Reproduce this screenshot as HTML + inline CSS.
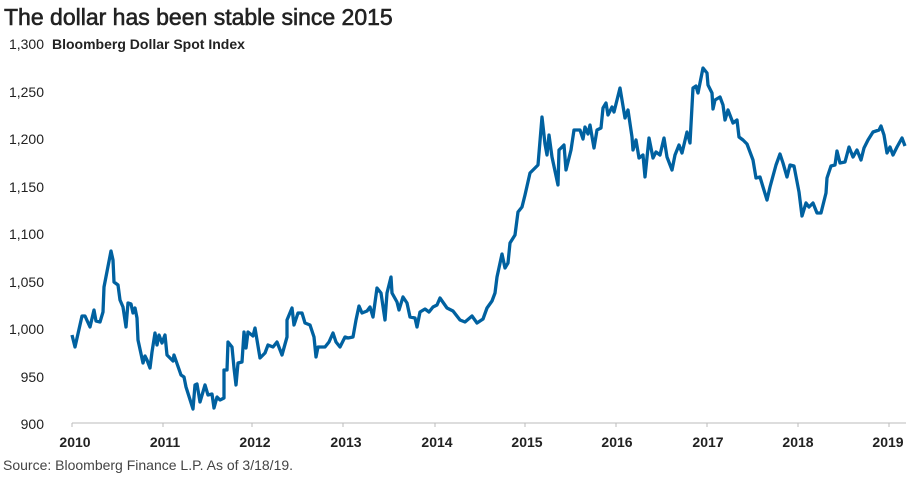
<!DOCTYPE html>
<html><head><style>
html,body{margin:0;padding:0;background:#fff;}
body{width:916px;height:476px;overflow:hidden;font-family:"Liberation Sans",sans-serif;}
</style></head><body>
<svg width="916" height="476" viewBox="0 0 916 476" xmlns="http://www.w3.org/2000/svg" font-family="Liberation Sans, sans-serif">
<text x="4" y="25" font-size="23" fill="#222" stroke="#222" stroke-width="0.6">The dollar has been stable since 2015</text>
<text x="52" y="49" font-size="14" font-weight="bold" fill="#222">Bloomberg Dollar Spot Index</text>
<g font-size="14" fill="#222" text-anchor="end">
<text x="44" y="49">1,300</text>
<text x="44" y="97">1,250</text>
<text x="44" y="144">1,200</text>
<text x="44" y="192">1,150</text>
<text x="44" y="239">1,100</text>
<text x="44" y="287">1,050</text>
<text x="44" y="334">1,000</text>
<text x="44" y="382">950</text>
<text x="44" y="429">900</text>
</g>
<line x1="72" y1="423" x2="906" y2="423" stroke="#bbb" stroke-width="1"/>
<g stroke="#bbb" stroke-width="1">
<line x1="72" y1="423" x2="72" y2="427"/><line x1="163" y1="423" x2="163" y2="427"/><line x1="252" y1="423" x2="252" y2="427"/><line x1="343" y1="423" x2="343" y2="427"/><line x1="435" y1="423" x2="435" y2="427"/><line x1="525" y1="423" x2="525" y2="427"/><line x1="616" y1="423" x2="616" y2="427"/><line x1="707" y1="423" x2="707" y2="427"/><line x1="798" y1="423" x2="798" y2="427"/><line x1="889" y1="423" x2="889" y2="427"/>
</g>
<g font-size="14" font-weight="bold" fill="#222" text-anchor="middle">
<text x="75" y="447">2010</text><text x="165" y="447">2011</text><text x="255" y="447">2012</text><text x="346" y="447">2013</text><text x="437" y="447">2014</text><text x="527" y="447">2015</text><text x="617" y="447">2016</text><text x="708" y="447">2017</text><text x="798" y="447">2018</text><text x="888" y="447">2019</text>
</g>
<text x="3" y="470" font-size="14" fill="#444">Source: Bloomberg Finance L.P. As of 3/18/19.</text>
<polyline fill="none" stroke="#0061A0" stroke-width="3.3" stroke-linejoin="round" points="72,335 75,347 82,316 85,316 90,327 94,310 96,321 100,322 103,312 104,287 111,251 113,260 114,282 118,285 120,300 123,307 126,327 128,303 131,304 133,313 135,308 137,318 138,340 143,363 145,356 147,360 150,368 152,352 155,333 157,345 159,335 162,343 165,335 167,355 173,361 174,355 181,375 184,377 186,387 193,409 195,385 197,384 200,402 205,385 208,395 212,394 214,408 217,397 220,400 224,398 224,370 227,370 228,342 232,347 234,368 236,385 238,363 242,362 244,332 246,348 248,332 253,336 255,328 260,358 265,353 268,345 273,347 277,342 282,355 287,337 287,320 292,308 294,325 298,313 302,313 305,323 310,325 314,337 316,357 318,347 325,347 329,342 333,333 336,342 340,347 345,337 348,338 353,337 356,320 359,306 362,313 367,311 370,307 373,317 377,288 381,293 385,320 387,293 391,277 392,293 397,302 399,310 403,297 407,303 410,317 415,318 417,327 420,312 425,309 429,312 433,307 437,305 440,298 447,308 453,311 460,320 465,322 472,316 477,323 483,319 487,308 492,301 495,293 497,277 502,254 505,268 508,263 510,243 515,235 518,212 522,207 525,195 530,173 534,169 538,165 542,117 545,144 547,155 549,135 552,157 558,185 559,150 564,145 566,170 571,150 574,130 580,130 583,139 585,127 588,134 590,125 594,148 597,130 601,128 603,108 606,103 608,115 612,107 614,112 620,88 625,118 628,110 632,137 633,150 636,140 639,158 643,155 645,177 649,138 653,158 656,152 660,155 664,138 667,157 672,170 675,155 679,145 682,153 687,132 690,143 693,88 696,86 698,93 703,68 707,73 708,85 712,93 713,109 715,100 720,97 723,105 725,120 728,110 733,123 737,120 739,137 743,140 747,144 753,160 756,178 760,177 763,187 767,200 770,187 776,165 780,154 783,163 787,177 790,165 794,166 799,192 802,216 806,203 809,207 813,203 817,213 821,213 826,193 827,178 831,166 835,165 837,151 840,163 845,162 849,147 853,157 857,150 861,160 864,148 868,140 873,132 879,130 881,126 884,135 887,153 890,147 893,155 897,147 902,138 905,146"/>
</svg>
</body></html>
